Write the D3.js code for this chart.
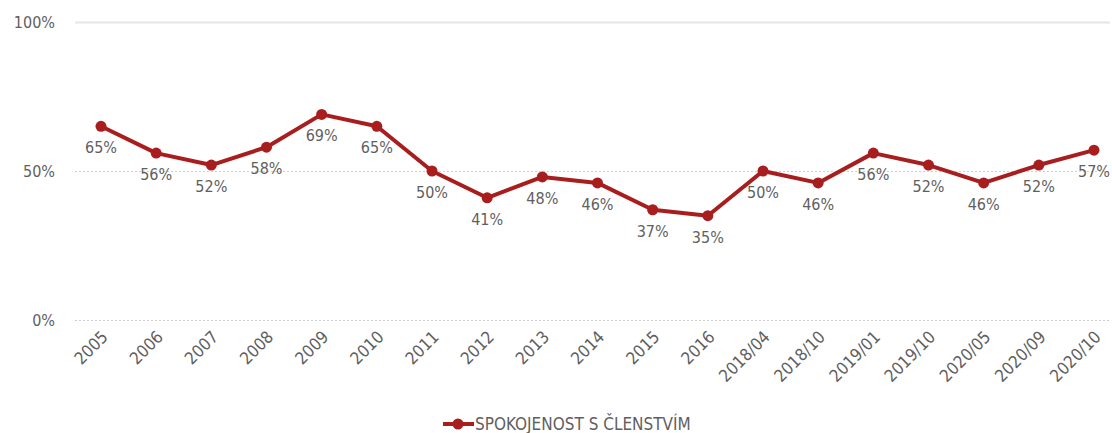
<!DOCTYPE html>
<html>
<head>
<meta charset="utf-8">
<script src="https://cdn.jsdelivr.net/npm/d3@7"></script>
<style>
	body { margin: 0; background: #fff; }
	svg text { font-family: "DejaVu Sans Condensed", "Roboto", sans-serif; fill: #5f5f5f; }
</style>
</head>
<body>
<svg id="vis" width="1112" height="433"></svg>
<script>
var CATEGORIES = ["2005", "2006", "2007", "2008", "2009", "2010", "2011", "2012", "2013", "2014",
                  "2015", "2016", "2018/04", "2018/10", "2019/01", "2019/10", "2020/05", "2020/09", "2020/10"];
var VALUES = [65, 56, 52, 58, 69, 65, 50, 41, 48, 46, 37, 35, 50, 46, 56, 52, 46, 52, 57];
var Y_TICKS = [0, 50, 100];
var SERIES_NAME = "SPOKOJENOST S ČLENSTVÍM";

var RED = "#a81e1e";
var svg = d3.select("#vis");

var xScale = d3.scalePoint().domain(CATEGORIES).range([101, 1094]);
var yScale = d3.scaleLinear().domain([0, 100]).range([320, 22]);

// gridlines
svg.selectAll("line.grid")
   .data(Y_TICKS)
   .enter()
   .append("line")
   .attr("class", "grid")
   .attr("x1", 75)
   .attr("x2", 1110)
   .attr("y1", d => yScale(d) + 0.5)
   .attr("y2", d => yScale(d) + 0.5)
   .attr("stroke", d => d == 100 ? "#e6e6e6" : "#cfcfcf")
   .attr("stroke-width", d => d == 100 ? 2 : 1)
   .attr("stroke-dasharray", d => d == 100 ? null : "2,2");

// y labels
svg.selectAll("text.ylab")
   .data(Y_TICKS)
   .enter()
   .append("text")
   .attr("class", "ylab")
   .attr("x", 55)
   .attr("y", d => yScale(d) + 6)
   .attr("text-anchor", "end")
   .attr("font-size", 16)
   .text(d => d + "%");

// x labels
svg.selectAll("text.xlab")
   .data(CATEGORIES)
   .enter()
   .append("text")
   .attr("class", "xlab")
   .attr("text-anchor", "end")
   .attr("font-size", 17)
   .attr("transform", d => "translate(" + (xScale(d) + 8) + ",338) rotate(-45)")
   .text(d => d);

// line
var line = d3.line()
             .x((d, i) => xScale(CATEGORIES[i]))
             .y(d => yScale(d));

svg.append("path")
   .datum(VALUES)
   .attr("d", line)
   .attr("fill", "none")
   .attr("stroke", RED)
   .attr("stroke-width", 4)
   .attr("stroke-linejoin", "round");

svg.selectAll("circle.pt")
   .data(VALUES)
   .enter()
   .append("circle")
   .attr("class", "pt")
   .attr("cx", (d, i) => xScale(CATEGORIES[i]))
   .attr("cy", d => yScale(d))
   .attr("r", 5.5)
   .attr("fill", RED);

// value labels
svg.selectAll("text.val")
   .data(VALUES)
   .enter()
   .append("text")
   .attr("class", "val")
   .attr("x", (d, i) => xScale(CATEGORIES[i]))
   .attr("y", d => yScale(d) + 27)
   .attr("text-anchor", "middle")
   .attr("font-size", 16)
   .text(d => d + "%");

// legend
var legend = svg.append("g").attr("transform", "translate(443,424)");
legend.append("line")
      .attr("x1", 0).attr("x2", 31)
      .attr("y1", 0).attr("y2", 0)
      .attr("stroke", RED)
      .attr("stroke-width", 4);
legend.append("circle")
      .attr("cx", 15).attr("cy", 0)
      .attr("r", 5.5)
      .attr("fill", RED);
legend.append("text")
      .attr("x", 32)
      .attr("y", 6)
      .attr("font-size", 17)
      .text(SERIES_NAME);
</script>
</body>
</html>
